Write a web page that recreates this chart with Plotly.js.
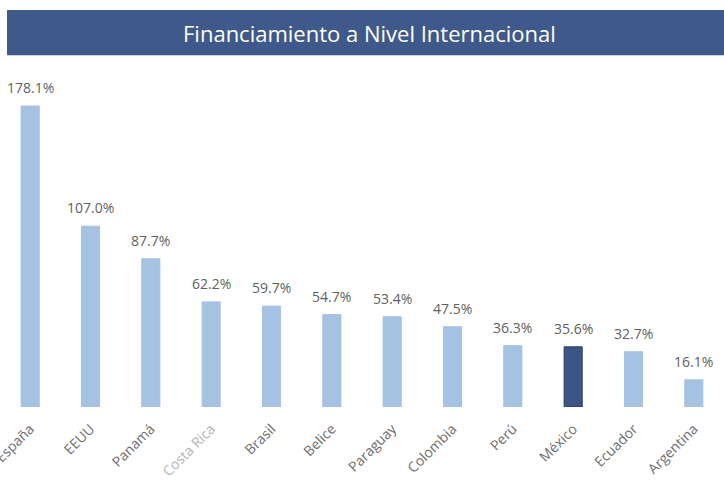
<!DOCTYPE html>
<html>
<head>
<meta charset="utf-8">
<script src="https://cdn.plot.ly/plotly-3.0.1.min.js"></script>
<style>html,body{margin:0;padding:0;background:#fff;}#chart{width:724px;height:480px;}</style>
</head>
<body>
<div id="chart"></div>
<script>
const countries = ["España","EEUU","Panamá","Costa Rica","Brasil","Belice","Paraguay","Colombia","Perú","México","Ecuador","Argentina"];
const values = [178.1,107.0,87.7,62.2,59.7,54.7,53.4,47.5,36.3,35.6,32.7,16.1];
const highlight = "México";
const chartTitle = "Financiamiento a Nivel Internacional";

const barColors = countries.map(c => c === highlight ? "#3c5585" : "#a6c2e2");
const lineColors = countries.map(c => c === highlight ? "#2a3d63" : "#a6c2e2");
const tickText = countries.map(c => c === "Costa Rica" ? '<span style="color:#b4b4b4">' + c + '</span>' : c);

const trace = {
  type: "bar",
  x: countries,
  y: values,
  marker: {color: barColors, line: {color: lineColors, width: 1}},
  hoverinfo: "none"
};

const labelAnnotations = countries.map((c, i) => ({
  x: c, y: values[i], xref: "x", yref: "y",
  xanchor: "center", yanchor: "bottom", yshift: 7,
  text: values[i].toFixed(1) + "%", showarrow: false,
  font: {family: "Open Sans, sans-serif", size: 14, color: "#5f5f5f"}
}));

const layout = {
  width: 724, height: 480,
  margin: {l: 0, r: 0, t: 80, b: 73},
  paper_bgcolor: "#ffffff", plot_bgcolor: "#ffffff",
  bargap: 0.7,
  showlegend: false,
  xaxis: {
    type: "category",
    tickvals: countries,
    ticktext: tickText,
    tickangle: -45,
    ticklabelstandoff: 10,
    tickfont: {family: "Open Sans, sans-serif", size: 14, color: "#6e6e6e"},
    showline: false, showgrid: false, zeroline: false, ticks: "",
    automargin: false
  },
  yaxis: {
    range: [0, 193.5],
    visible: false,
    showgrid: false, zeroline: false
  },
  shapes: [{
    type: "rect", xref: "paper", yref: "paper",
    x0: 0.0097, x1: 1.0, y0: 1.076, y1: 1.214,
    fillcolor: "#3f5a8a", line: {width: 0}, layer: "above"
  }],
  annotations: [{
    xref: "paper", yref: "paper",
    x: 0.511, y: 1.145, xanchor: "center", yanchor: "middle",
    text: chartTitle, showarrow: false,
    font: {family: "Open Sans, sans-serif", size: 22, color: "#ffffff"}
  }].concat(labelAnnotations)
};

Plotly.newPlot("chart", [trace], layout, {displayModeBar: false, staticPlot: true});
</script>
</body>
</html>
